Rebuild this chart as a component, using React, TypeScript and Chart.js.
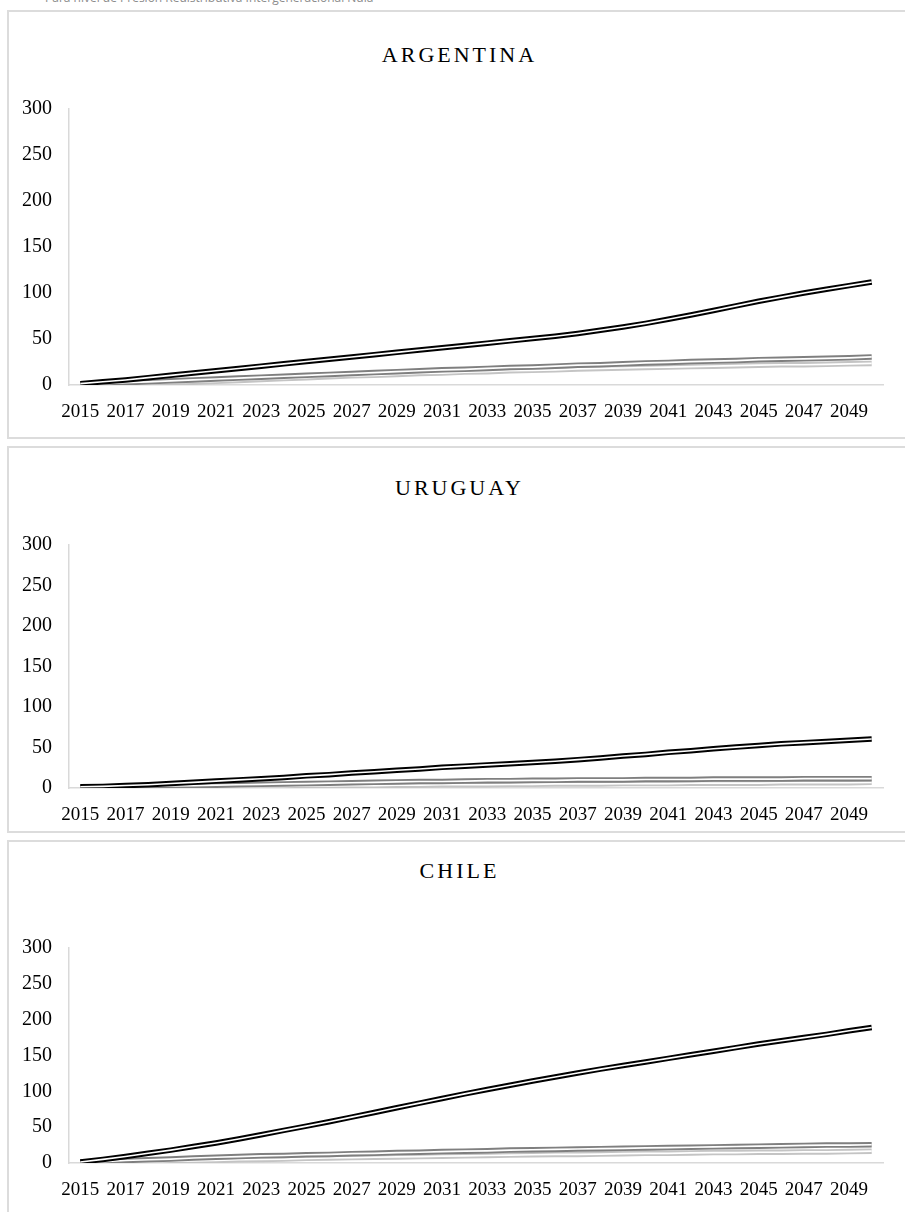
import React, { useEffect, useRef } from "react";
import { Chart, registerables } from "chart.js";

Chart.register(...registerables);

const years = [
  "2015", "2016", "2017", "2018", "2019", "2020", "2021", "2022", "2023", "2024",
  "2025", "2026", "2027", "2028", "2029", "2030", "2031", "2032", "2033", "2034",
  "2035", "2036", "2037", "2038", "2039", "2040", "2041", "2042", "2043", "2044",
  "2045", "2046", "2047", "2048", "2049", "2050",
];

const yTicks = [0, 50, 100, 150, 200, 250, 300];

const argentinaA = [
  1.5, 3.5, 5.5, 8, 10.5, 13, 15.5, 18, 20.5, 23, 25.5, 28, 30.5, 33, 35.5, 38, 40.5, 43,
  45.5, 48, 50.5, 53, 56, 59.5, 63, 67, 71.5, 76, 81, 86, 91, 95.5, 100, 104, 108, 112,
];
const argentinaB = [
  0.5, 1.5, 2.5, 3.5, 4.5, 5.5, 6.5, 7.5, 8.5, 9.5, 10.5, 11.5, 12.5, 13.5, 14.5, 15.5, 16.5, 17,
  18, 19, 19.5, 20.5, 21.5, 22, 23, 24, 24.5, 25.5, 26, 26.5, 27.5, 28, 28.5, 29, 29.5, 30.5,
];
const argentinaC = [
  0, 0.5, 1, 1.5, 2.5, 3, 4, 5, 6, 7, 8, 9, 10, 10.5, 11.5, 12.5, 13, 14,
  14.5, 15.5, 16, 16.5, 17.5, 18, 18.5, 19, 19.5, 20, 20.5, 21, 21.5, 22, 22, 22.5, 23, 23.5,
];

const uruguayA = [
  1.5, 2, 3, 4, 5.5, 7, 8.5, 10, 11.5, 13, 15, 16.5, 18.5, 20, 22, 23.5, 25.5, 27,
  28.5, 30, 31.5, 33, 35, 37, 39.5, 41.5, 44, 46, 48.5, 50.5, 52.5, 54.5, 56, 57.5, 59, 60.5,
];
const uruguayB = [
  0.5, 1, 1.5, 2, 2.5, 3, 3.5, 4, 4.5, 5, 5.5, 6, 6.5, 7, 7.5, 8, 8, 8.5,
  9, 9, 9.5, 9.5, 10, 10, 10, 10.5, 10.5, 10.5, 11, 11, 11, 11, 11.5, 11.5, 11.5, 11.5,
];
const uruguayC = [
  0, 0, 0.5, 0.5, 1, 1, 1.5, 1.5, 2, 2, 2.5, 2.5, 3, 3, 3.5, 3.5, 4, 4,
  4, 4.5, 4.5, 5, 5, 5, 5.5, 5.5, 5.5, 6, 6, 6, 6, 6.5, 6.5, 6.5, 6.5, 7,
];

const chileA = [
  1.5, 5, 9, 13.5, 18, 23, 28, 33.5, 39.5, 45.5, 51.5, 57.5, 64, 70.5, 77, 83.5, 90, 96.5,
  102.5, 108.5, 114.5, 120, 125.5, 131, 136, 141, 146, 151, 156, 161, 166, 170.5, 175, 179.5, 184.5, 189,
];
const chileB = [
  1, 2, 3.5, 4.5, 5.5, 7, 8, 9, 10, 10.5, 11.5, 12, 13, 13.5, 14.5, 15, 16, 16.5,
  17, 18, 18.5, 19, 19.5, 20, 20.5, 21, 21.5, 22, 22.5, 23, 23.5, 24, 24.5, 25, 25, 25.5,
];
const chileC = [
  0, 0.5, 1, 1.5, 2.5, 3, 3.5, 4.5, 5, 5.5, 6.5, 7, 7.5, 8, 8.5, 9, 9.5, 10,
  10.5, 11, 11.5, 12, 12, 12.5, 13, 13.5, 13.5, 14, 14.5, 14.5, 15, 15, 15.5, 15.5, 16, 16.5,
];

const seriesColors = ["#000000", "#7f7f7f", "#c4c4c4"];

type PanelProps = {
  title: string;
  series: number[][];
  panelTop: number;
  panelHeight: number;
  titleTop: number;
  plotTop: number;
  plotBottom: number;
};

const W = 905;
const PAD_TOP = 20;
const X_AXIS_H = 45;

function Panel({ title, series, panelTop, panelHeight, titleTop, plotTop, plotBottom }: PanelProps) {
  const ref = useRef<HTMLCanvasElement | null>(null);
  const canvasTop = plotTop - PAD_TOP;
  const canvasH = plotBottom - plotTop + PAD_TOP + X_AXIS_H;

  useEffect(() => {
    if (!ref.current) return;
    const datasets: any[] = [];
    series.forEach((data, k) => {
      const gray = k > 0;
      datasets.push({
        data,
        borderColor: seriesColors[k],
        borderWidth: 5.5,
        pointRadius: 0,
        tension: 0,
        borderCapStyle: "butt",
        order: 2 * k + 1,
      });
      datasets.push({
        data,
        borderColor: "#ffffff",
        borderWidth: gray ? 1.7 : 1.6,
        pointRadius: 0,
        tension: 0,
        borderCapStyle: "butt",
        order: 2 * k,
      });
    });
    const chart = new Chart(ref.current, {
      type: "line",
      data: { labels: years, datasets },
      options: {
        responsive: false,
        animation: false,
        devicePixelRatio: 1,
        layout: { padding: { top: PAD_TOP, right: W - 883, bottom: 0, left: 0 } },
        plugins: { legend: { display: false }, tooltip: { enabled: false }, title: { display: false } },
        scales: {
          x: {
            type: "category",
            offset: true,
            grid: { display: false, drawTicks: false },
            border: { display: true, color: "#d9d9d9", width: 1.5 },
            ticks: {
              autoSkip: false,
              maxRotation: 0,
              minRotation: 0,
              padding: 16,
              color: "#000000",
              font: { family: "'Liberation Serif', 'Times New Roman', serif", size: 19 },
              callback: (_v: any, i: number) => (i % 2 === 0 ? years[i] : ""),
            },
            afterFit: (s: any) => {
              s.height = X_AXIS_H;
            },
          },
          y: {
            min: yTicks[0],
            max: yTicks[yTicks.length - 1],
            grid: { display: false, drawTicks: false },
            border: { display: true, color: "#d9d9d9", width: 1.5 },
            afterBuildTicks: (s: any) => {
              s.ticks = yTicks.map((v) => ({ value: v }));
            },
            ticks: {
              padding: 17,
              color: "#000000",
              font: { family: "'Liberation Serif', 'Times New Roman', serif", size: 20 },
            },
            afterFit: (s: any) => {
              s.width = 69;
            },
          },
        },
      },
    });
    return () => chart.destroy();
  }, []);

  return (
    <>
      <div
        style={{
          position: "absolute",
          left: 7,
          top: panelTop,
          width: W,
          height: panelHeight,
          border: "2px solid #dcdcdc",
          boxSizing: "border-box",
          background: "#ffffff",
        }}
      />
      <div
        style={{
          position: "absolute",
          left: 7,
          top: titleTop,
          width: W,
          textAlign: "center",
          fontFamily: "'Liberation Serif', 'Times New Roman', serif",
          fontSize: 22,
          letterSpacing: 3,
          color: "#000000",
          lineHeight: "24px",
        }}
      >
        {title}
      </div>
      <canvas
        ref={ref}
        width={W}
        height={canvasH}
        style={{ position: "absolute", left: 0, top: canvasTop, width: W, height: canvasH }}
      />
    </>
  );
}

export default function App() {
  useEffect(() => {
    document.body.style.margin = "0";
    document.body.style.overflow = "hidden";
  }, []);
  return (
    <div style={{ position: "relative", width: W, height: 1212, overflow: "hidden", background: "#ffffff" }}>
      <div
        style={{
          position: "absolute",
          left: 45,
          top: -9,
          fontFamily: "'Open Sans', sans-serif",
          fontSize: 12,
          lineHeight: "14px",
          color: "#8c8c8c",
          whiteSpace: "nowrap",
        }}
      >
        Para nivel de Presión Redistributiva Intergeneracional Nula
      </div>
      <Panel
        title="ARGENTINA"
        series={[argentinaA, argentinaB, argentinaC]}
        panelTop={10}
        panelHeight={429}
        titleTop={43}
        plotTop={100}
        plotBottom={385}
      />
      <Panel
        title="URUGUAY"
        series={[uruguayA, uruguayB, uruguayC]}
        panelTop={446}
        panelHeight={387}
        titleTop={476}
        plotTop={536}
        plotBottom={788}
      />
      <Panel
        title="CHILE"
        series={[chileA, chileB, chileC]}
        panelTop={840}
        panelHeight={380}
        titleTop={859}
        plotTop={939}
        plotBottom={1163}
      />
    </div>
  );
}
